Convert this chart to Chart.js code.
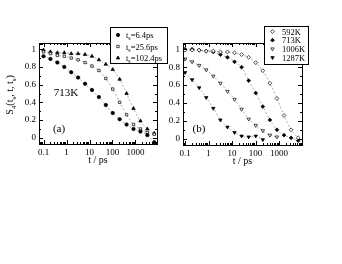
<!DOCTYPE html>
<html>
<head>
<meta charset="utf-8">
<script src="https://cdn.jsdelivr.net/npm/chart.js@4.4.0/dist/chart.umd.min.js"></script>
<style>
  html, body { margin: 0; padding: 0; background: #fff; }
  #wrap { position: relative; width: 342px; height: 264px; }
  canvas { position: absolute; left: 0; top: 0; }
</style>
</head>
<body>
<div id="wrap">
  <canvas id="panelA" width="342" height="264"></canvas>
  <canvas id="panelB" width="342" height="264"></canvas>
</div>
<script>
// waiting times t (ps), doubling from 0.1
var times = [0.1, 0.2, 0.4, 0.8, 1.6, 3.2, 6.4, 12.8, 25.6, 51.2, 102.4, 204.8, 409.6, 819.2, 1638.4, 3276.8, 6553.6];

// panel (a): 713K, different t_s
var labelsA = ['t_s=6.4ps', 't_s=25.6ps', 't_s=102.4ps'];
var ts64 = [0.92, 0.89, 0.85, 0.80, 0.74, 0.68, 0.61, 0.54, 0.46, 0.37, 0.28, 0.21, 0.15, 0.10, 0.07, 0.03, -0.05];
var ts256 = [0.97, 0.95, 0.93, 0.92, 0.90, 0.88, 0.85, 0.81, 0.76, 0.67, 0.55, 0.40, 0.26, 0.15, 0.10, 0.06, 0.04];
var ts1024 = [0.99, 0.97, 0.96, 0.96, 0.95, 0.95, 0.94, 0.92, 0.88, 0.83, 0.77, 0.66, 0.50, 0.33, 0.19, 0.10, 0.05];

// panel (b): different temperatures
var labelsB = ['592K', '713K', '1006K', '1287K'];
var k592 = [0.99, 0.99, 0.99, 0.98, 0.98, 0.97, 0.97, 0.96, 0.94, 0.91, 0.85, 0.76, 0.62, 0.45, 0.26, 0.10, 0.01];
var k713 = [1.0, 1.0, 0.99, 0.98, 0.97, 0.94, 0.91, 0.86, 0.80, 0.65, 0.51, 0.36, 0.21, 0.10, 0.04, 0.01, -0.02];
var k1006 = [0.89, 0.86, 0.82, 0.77, 0.70, 0.62, 0.53, 0.44, 0.33, 0.22, 0.15, 0.09, 0.04, 0.02];
var k1287 = [0.74, 0.66, 0.57, 0.46, 0.34, 0.21, 0.13, 0.07, 0.03, 0.02, 0.03, -0.01];

var xTicks = [0.1, 1, 10, 100, 1000];
var yTicks = [0, 0.2, 0.4, 0.6, 0.8, 1];
var yTitle = 'S_4(t_s, t, t_s)';
var xTitle = 't / ps';

var FONT = "'Liberation Serif', 'Times New Roman', serif";

function pts(vals) {
  return vals.map(function (v, i) { return { x: times[i], y: v }; });
}

function series(label, vals, style, fill, radius, rot) {
  return {
    label: label,
    data: pts(vals),
    showLine: true,
    cubicInterpolationMode: 'monotone',
    borderColor: '#888',
    borderWidth: 0.7,
    borderDash: [2, 2],
    pointStyle: style,
    pointRadius: radius,
    pointRotation: rot || 0,
    pointBackgroundColor: fill ? '#000' : '#fff',
    pointBorderColor: '#000',
    pointBorderWidth: 0.7
  };
}

// text with "_x" subscripts
function drawRich(ctx, str, x, y, size, align) {
  var parts = [];
  for (var i = 0; i < str.length; i++) {
    if (str[i] === '_') { parts.push({ t: str[i + 1], sub: true }); i++; }
    else if (parts.length && !parts[parts.length - 1].sub) parts[parts.length - 1].t += str[i];
    else parts.push({ t: str[i], sub: false });
  }
  var w = 0;
  parts.forEach(function (p) {
    ctx.font = (p.sub ? size * 0.7 : size) + 'px ' + FONT;
    p.w = ctx.measureText(p.t).width;
    w += p.w;
  });
  if (align === 'center') x -= w / 2;
  ctx.textAlign = 'left';
  ctx.textBaseline = 'alphabetic';
  parts.forEach(function (p) {
    ctx.font = (p.sub ? size * 0.7 : size) + 'px ' + FONT;
    ctx.fillText(p.t, x, p.sub ? y + size * 0.25 : y);
    x += p.w;
  });
}

var deco = {
  id: 'deco',
  afterDatasetsDraw: function (chart, args, o) {
    var ctx = chart.ctx, a = chart.chartArea;
    var xs = chart.scales.x, ys = chart.scales.y;
    ctx.save();
    ctx.strokeStyle = '#000';
    ctx.lineWidth = 1;
    ctx.strokeRect(Math.round(a.left) + 0.5, Math.round(a.top) + 0.5,
      Math.round(a.right - a.left), Math.round(a.bottom - a.top));
    ctx.beginPath();
    for (var n = -2; n <= 4; n++) {
      for (var k = 1; k <= 9; k++) {
        var v = k * Math.pow(10, n);
        if (v < xs.min || v > xs.max) continue;
        var px = Math.round(xs.getPixelForValue(v)) + 0.5;
        var len = k === 1 ? 4 : 2;
        ctx.moveTo(px, a.bottom); ctx.lineTo(px, a.bottom - len);
        ctx.moveTo(px, a.top); ctx.lineTo(px, a.top + len);
      }
    }
    for (var j = 0; j <= 10; j++) {
      var py = Math.round(ys.getPixelForValue(j / 10)) + 0.5;
      var l2 = j % 2 === 0 ? 4 : 2;
      ctx.moveTo(a.left, py); ctx.lineTo(a.left + l2, py);
      ctx.moveTo(a.right, py); ctx.lineTo(a.right - l2, py);
    }
    ctx.stroke();

    ctx.fillStyle = '#000';
    (o.texts || []).forEach(function (t) {
      drawRich(ctx, t.text, t.x, t.y, t.size, 'center');
    });
    if (o.yTitle) {
      ctx.save();
      ctx.translate(o.yTitle.x, o.yTitle.y);
      ctx.rotate(-Math.PI / 2);
      drawRich(ctx, yTitle, 0, 0, 10, 'center');
      ctx.restore();
    }

    // legend box
    var L = o.legend;
    ctx.fillStyle = '#fff';
    ctx.fillRect(L.x, L.y, L.w, L.h);
    ctx.strokeRect(L.x + 0.5, L.y + 0.5, L.w, L.h);
    chart.data.datasets.forEach(function (ds, i) {
      var cy = L.row0 + i * L.dy;
      ctx.fillStyle = ds.pointBackgroundColor;
      ctx.strokeStyle = '#000';
      ctx.lineWidth = 0.7;
      Chart.helpers.drawPoint(ctx, {
        pointStyle: ds.pointStyle, radius: ds.pointRadius,
        rotation: ds.pointRotation, borderWidth: 0.7
      }, L.mx, cy);
      ctx.fillStyle = '#000';
      drawRich(ctx, ds.label, L.tx, cy + 3, 8.5, 'left');
    });
    ctx.restore();
  }
};

function axes(xmin, xmax, yw) {
  return {
    x: {
      type: 'logarithmic', min: xmin, max: xmax,
      afterBuildTicks: function (s) { s.ticks = xTicks.map(function (v) { return { value: v }; }); },
      afterFit: function (s) { s.height = 22; },
      grid: { display: false, drawTicks: false }, border: { display: false },
      ticks: {
        autoSkip: false, maxRotation: 0, padding: 3, color: '#000',
        font: { family: FONT, size: 9 },
        callback: function (v) { return String(v); }
      },
      title: { display: true, text: xTitle, color: '#000', padding: 0, font: { family: FONT, size: 10 } }
    },
    y: {
      min: -0.07, max: 1.07,
      afterBuildTicks: function (s) { s.ticks = yTicks.map(function (v) { return { value: v }; }); },
      afterFit: function (s) { s.width = yw; },
      grid: { display: false, drawTicks: false }, border: { display: false },
      ticks: {
        padding: 3, color: '#000', font: { family: FONT, size: 9 },
        callback: function (v) { return String(v); }
      }
    }
  };
}

new Chart(document.getElementById('panelA'), {
  type: 'scatter',
  data: {
    datasets: [
      series(labelsA[0], ts64, 'circle', true, 1.7),
      series(labelsA[1], ts256, 'rect', false, 1.7),
      series(labelsA[2], ts1024, 'triangle', true, 2)
    ]
  },
  options: {
    responsive: false, animation: false, devicePixelRatio: 1,
    layout: { padding: { left: 0, top: 43, right: 185, bottom: 98 } },
    plugins: {
      legend: { display: false }, tooltip: { enabled: false },
      deco: {
        texts: [{ text: '713K', x: 66, y: 96, size: 11 }, { text: '(a)', x: 59, y: 132, size: 11 }],
        yTitle: { x: 13, y: 95 },
        legend: { x: 110, y: 27, w: 57, h: 36, row0: 35, dy: 11.5, mx: 118, tx: 126 }
      }
    },
    scales: axes(0.0637, 8610, 39)
  },
  plugins: [deco]
});

new Chart(document.getElementById('panelB'), {
  type: 'scatter',
  data: {
    datasets: [
      series(labelsB[0], k592, 'rectRot', false, 1.9),
      series(labelsB[1], k713, 'rectRot', true, 1.9),
      series(labelsB[2], k1006, 'triangle', false, 2, 180),
      series(labelsB[3], k1287, 'triangle', true, 2, 180)
    ]
  },
  options: {
    responsive: false, animation: false, devicePixelRatio: 1,
    layout: { padding: { left: 160, top: 43, right: 40, bottom: 97 } },
    plugins: {
      legend: { display: false }, tooltip: { enabled: false },
      deco: {
        texts: [{ text: '(b)', x: 199, y: 132, size: 11 }],
        legend: { x: 264, y: 26, w: 44, h: 38, row0: 31.5, dy: 8.7, mx: 272.5, tx: 282 }
      }
    },
    scales: axes(0.082, 9530, 23)
  },
  plugins: [deco]
});
</script>
</body>
</html>
